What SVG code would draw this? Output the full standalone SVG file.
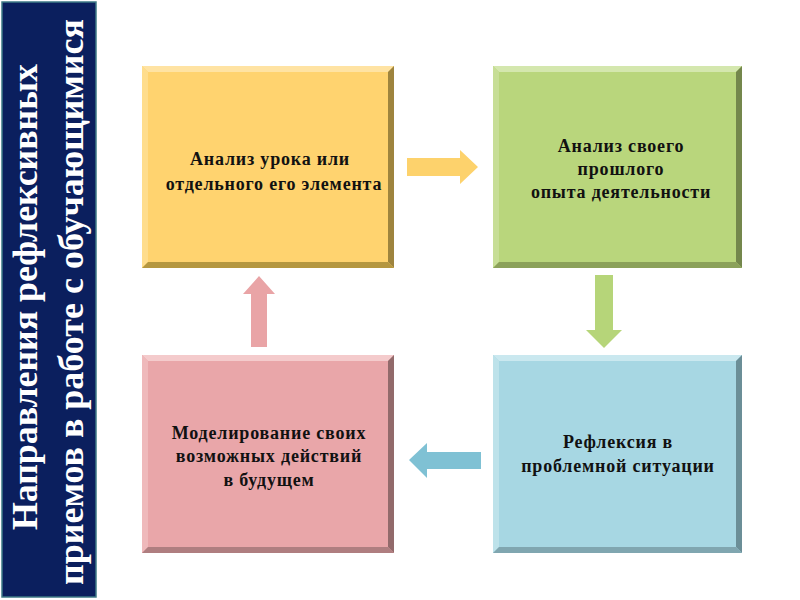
<svg xmlns="http://www.w3.org/2000/svg" width="800" height="600" viewBox="0 0 800 600">
<style>
.side{font-family:"Liberation Serif","Times New Roman",serif;font-weight:bold;font-size:36px;fill:#ffffff}
.lbl{font-family:"Liberation Serif","Times New Roman",serif;font-weight:bold;font-size:18px;letter-spacing:0.8px;fill:#111111;text-anchor:middle}
</style>
<rect width="800" height="600" fill="#ffffff"/>
<g id="sidebar">
<rect x="2" y="2" width="94" height="595" fill="#0b1f5e" stroke="#3e7a86" stroke-width="1.5"/>
<text class="side" transform="translate(37,530) rotate(-90)" textLength="466" lengthAdjust="spacingAndGlyphs">Направления рефлексивных</text>
<text class="side" transform="translate(83,585) rotate(-90)" textLength="566" lengthAdjust="spacingAndGlyphs">приемов в работе с обучающимися</text>
</g>
<g id="connectors">
<polygon points="407,158 460,158 460,150 478,167 460,184 460,176 407,176" fill="#fdd26c"/>
<polygon points="595,275 613,275 613,330 622,330 604,348 586,330 595,330" fill="#b6d579"/>
<polygon points="481,452 427,452 427,443 409,460 427,478 427,469 481,469" fill="#7fc1d4"/>
<polygon points="251,347 251,294 243,294 259,276 275,294 267,294 267,347" fill="#e9a4a6"/>
</g>
<g id="box1">
<rect x="142" y="66" width="252" height="202" fill="#ffd36f"/>
<polygon points="142,66 394,66 388,72 148,72" fill="#ffe3a3"/>
<polygon points="142,66 148,72 148,262 142,268" fill="#ffdd8c"/>
<polygon points="394,66 394,268 388,262 388,72" fill="#9e843e"/>
<polygon points="142,268 394,268 388,262 148,262" fill="#b59740"/>
<text class="lbl" x="270" y="165">Анализ урока или</text>
<text class="lbl" x="274" y="190">отдельного его элемента</text>
</g>
<g id="box2">
<rect x="493" y="66" width="249" height="202" fill="#b9d67c"/>
<polygon points="493,66 742,66 736,72 499,72" fill="#d4e7ae"/>
<polygon points="493,66 499,72 499,262 493,268" fill="#c7de96"/>
<polygon points="742,66 742,268 736,262 736,72" fill="#74874c"/>
<polygon points="493,268 742,268 736,262 499,262" fill="#8ba15a"/>
<text class="lbl" x="621" y="152">Анализ своего</text>
<text class="lbl" x="621" y="175">прошлого</text>
<text class="lbl" x="621" y="198">опыта деятельности</text>
</g>
<g id="box3">
<rect x="493" y="355" width="249" height="198" fill="#a7d7e3"/>
<polygon points="493,355 742,355 736,361 499,361" fill="#cae8ef"/>
<polygon points="493,355 499,361 499,547 493,553" fill="#bde2ea"/>
<polygon points="742,355 742,553 736,547 736,361" fill="#6b8e97"/>
<polygon points="493,553 742,553 736,547 499,547" fill="#80a6b0"/>
<text class="lbl" x="618" y="448">Рефлексия в</text>
<text class="lbl" x="618" y="472">проблемной ситуации</text>
</g>
<g id="box4">
<rect x="142" y="355" width="252" height="198" fill="#e9a6a9"/>
<polygon points="142,355 394,355 388,361 148,361" fill="#f4cbcc"/>
<polygon points="142,355 148,361 148,547 142,553" fill="#efb9bb"/>
<polygon points="394,355 394,553 388,547 388,361" fill="#926a6b"/>
<polygon points="142,553 394,553 388,547 148,547" fill="#af7e80"/>
<text class="lbl" x="269" y="439">Моделирование своих</text>
<text class="lbl" x="269" y="462">возможных действий</text>
<text class="lbl" x="269" y="486">в будущем</text>
</g>
</svg>
